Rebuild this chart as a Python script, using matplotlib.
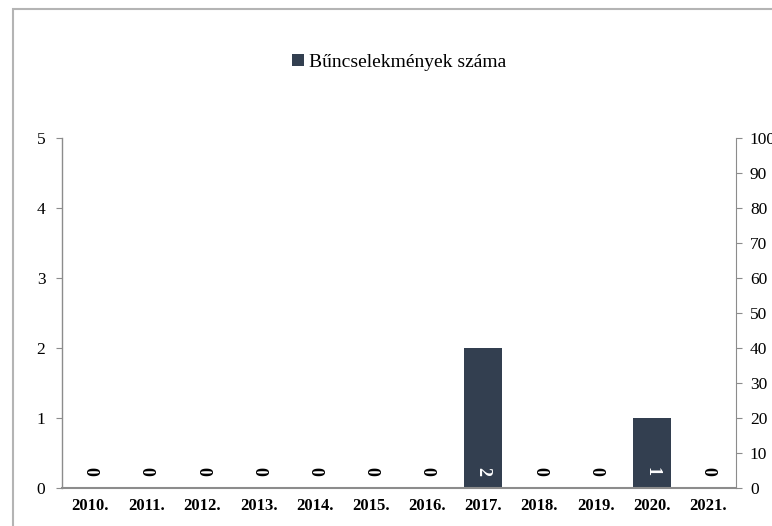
import matplotlib
matplotlib.use("Agg")
import matplotlib.pyplot as plt
from matplotlib.patches import Rectangle

years = ['2010.', '2011.', '2012.', '2013.', '2014.', '2015.', '2016.',
         '2017.', '2018.', '2019.', '2020.', '2021.']
counts = [0, 0, 0, 0, 0, 0, 0, 2, 0, 0, 1, 0]
series_name = 'Bűncselekmények száma'

plt.rcParams['font.family'] = ['Liberation Serif', 'DejaVu Serif']
bar_color = '#333f50'
axis_gray = '#8c8c8c'

fig = plt.figure(figsize=(7.72, 5.26), dpi=100)
# outer chart frame
fig.patches.append(Rectangle((13 / 772, -0.1), 1.2, 1.1 - 9 / 526,
                             transform=fig.transFigure, fill=False,
                             edgecolor='#b4b4b4', linewidth=1.5))

ax = fig.add_axes([62 / 772, 38 / 526, 674 / 772, 350 / 526])
x = range(len(years))
bars = ax.bar(x, counts, width=0.68, color=bar_color, label=series_name, zorder=2)

ax.set_xlim(-0.5, len(years) - 0.5)
ax.set_ylim(0, 5)
ax.set_yticks(range(0, 6))
ax.set_xticks(list(x))
ax.set_xticklabels(years, fontweight='bold', fontsize=12)
ax.tick_params(axis='x', length=0, pad=7)
ax.tick_params(axis='y', labelsize=12.5, length=4, color=axis_gray, pad=8)

for s in ['top', 'right']:
    ax.spines[s].set_visible(False)
for s in ['left', 'bottom']:
    ax.spines[s].set_color(axis_gray)
    ax.spines[s].set_linewidth(1.0)
ax.spines['bottom'].set_linewidth(1.5)

for xi, v in zip(x, counts):
    ax.text(xi, 0.23, str(v), rotation=-90, ha='center', va='center',
            fontweight='bold', fontsize=13,
            color='white' if v > 0 else 'black', zorder=3)

ax2 = ax.twinx()
ax2.set_ylim(0, 100)
ax2.set_yticks(range(0, 101, 10))
ax2.tick_params(axis='y', labelsize=12.5, length=4, color=axis_gray, pad=6)
for s in ['top', 'left', 'bottom']:
    ax2.spines[s].set_visible(False)
ax2.spines['right'].set_color(axis_gray)

ax.legend(loc='center', bbox_to_anchor=(0.5, 1.217), frameon=False,
          fontsize=14, handlelength=0.6, handleheight=0.6, handletextpad=0.25)

fig.savefig('out.png', dpi=100)
